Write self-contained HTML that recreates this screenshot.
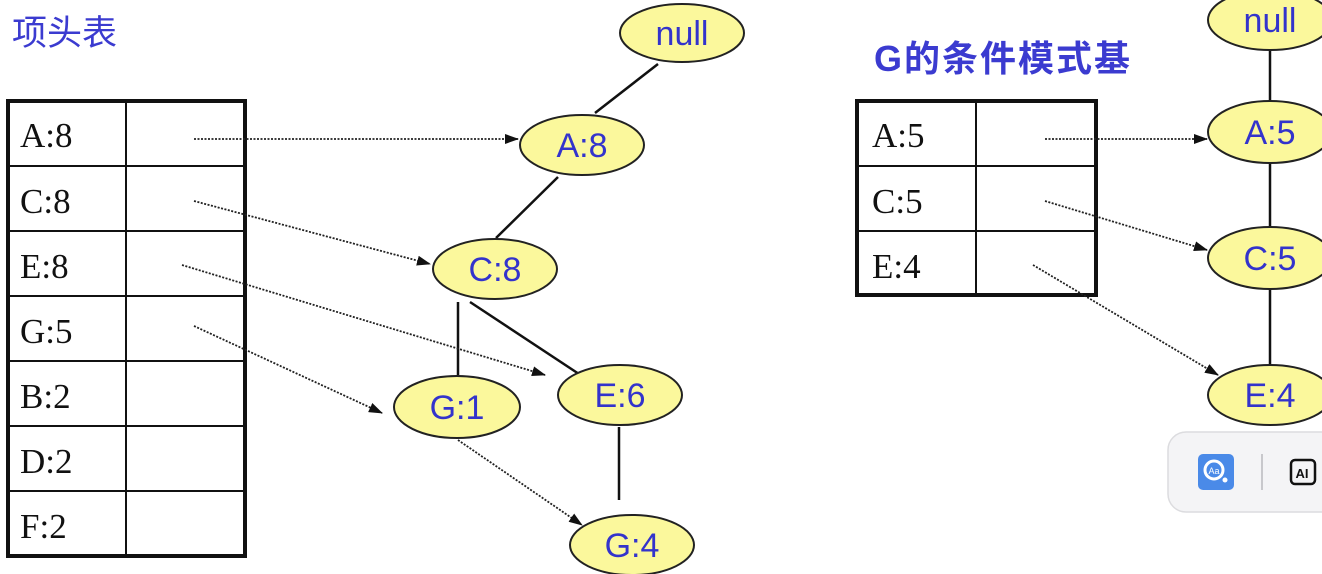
<!DOCTYPE html>
<html><head><meta charset="utf-8"><style>
html,body{margin:0;padding:0;background:#fff;width:1322px;height:574px;overflow:hidden;}
svg{display:block}
.t{font-family:"Liberation Serif","Noto Serif CJK SC",serif;font-size:35px;fill:#111}
.n{font-family:"Liberation Sans",sans-serif;font-size:34px;fill:#3333cc;text-anchor:middle}
.h{font-family:"Liberation Sans","Noto Sans CJK SC",sans-serif;fill:#3b3bd0}
</style></head><body>
<svg width="1322" height="574" viewBox="0 0 1322 574">
<defs><marker id="a" markerWidth="14" markerHeight="10" refX="13" refY="5" orient="auto" markerUnits="userSpaceOnUse"><path d="M0,0 L14,5 L0,10 z" fill="#111"/></marker></defs>
<text x="12" y="45" class="h" font-size="35">项头表</text>
<text x="874" y="71" class="h" font-size="36" font-weight="bold" textLength="256">G的条件模式基</text>
<!-- left table -->
<g stroke="#111" fill="none">
<rect x="8" y="101" width="237" height="455" stroke-width="4"/>
<line x1="126" y1="101" x2="126" y2="556" stroke-width="2"/>
<line x1="8" y1="166" x2="245" y2="166" stroke-width="2"/>
<line x1="8" y1="231" x2="245" y2="231" stroke-width="2"/>
<line x1="8" y1="296" x2="245" y2="296" stroke-width="2"/>
<line x1="8" y1="361" x2="245" y2="361" stroke-width="2"/>
<line x1="8" y1="426" x2="245" y2="426" stroke-width="2"/>
<line x1="8" y1="491" x2="245" y2="491" stroke-width="2"/>
</g>
<text class="t" x="20" y="147">A:8</text>
<text class="t" x="20" y="213">C:8</text>
<text class="t" x="20" y="278">E:8</text>
<text class="t" x="20" y="343">G:5</text>
<text class="t" x="20" y="408">B:2</text>
<text class="t" x="20" y="473">D:2</text>
<text class="t" x="20" y="538">F:2</text>
<!-- right table -->
<g stroke="#111" fill="none">
<rect x="857" y="101" width="239" height="194" stroke-width="4"/>
<line x1="976" y1="101" x2="976" y2="295" stroke-width="2"/>
<line x1="857" y1="166" x2="1096" y2="166" stroke-width="2"/>
<line x1="857" y1="231" x2="1096" y2="231" stroke-width="2"/>
</g>
<text class="t" x="872" y="147">A:5</text>
<text class="t" x="872" y="213">C:5</text>
<text class="t" x="872" y="278">E:4</text>
<!-- solid tree edges -->
<g stroke="#111" stroke-width="2.5">
<line x1="658" y1="64" x2="595" y2="113"/>
<line x1="558" y1="177" x2="496" y2="238"/>
<line x1="458" y1="302" x2="458" y2="375"/>
<line x1="470" y1="302" x2="582" y2="376"/>
<line x1="619" y1="427" x2="619" y2="500"/>
<line x1="1270" y1="50" x2="1270" y2="101"/>
<line x1="1270" y1="163" x2="1270" y2="227"/>
<line x1="1270" y1="289" x2="1270" y2="364"/>
</g>
<!-- dotted pointers -->
<g stroke="#222" stroke-width="1.8" stroke-dasharray="2,1.5" fill="none" marker-end="url(#a)">
<line x1="194" y1="139" x2="518" y2="139"/>
<line x1="194" y1="201" x2="430" y2="264"/>
<line x1="182" y1="265" x2="545" y2="375"/>
<line x1="194" y1="326" x2="382" y2="413"/>
<line x1="458" y1="440" x2="582" y2="525"/>
<line x1="1045" y1="139" x2="1207" y2="139"/>
<line x1="1045" y1="201" x2="1207" y2="250"/>
<line x1="1033" y1="265" x2="1218" y2="375"/>
</g>
<!-- nodes -->
<g fill="#fbf89c" stroke="#222" stroke-width="2">
<ellipse cx="682" cy="33" rx="62" ry="29"/>
<ellipse cx="582" cy="145" rx="62" ry="30"/>
<ellipse cx="495" cy="269" rx="62" ry="30"/>
<ellipse cx="457" cy="407" rx="63" ry="31"/>
<ellipse cx="620" cy="395" rx="62" ry="30"/>
<ellipse cx="632" cy="545" rx="62" ry="30"/>
<ellipse cx="1270" cy="20" rx="62" ry="30"/>
<ellipse cx="1270" cy="132" rx="62" ry="31"/>
<ellipse cx="1270" cy="258" rx="62" ry="31"/>
<ellipse cx="1270" cy="395" rx="62" ry="30"/>
</g>
<text class="n" x="682" y="45">null</text>
<text class="n" x="582" y="157">A:8</text>
<text class="n" x="495" y="281">C:8</text>
<text class="n" x="457" y="419">G:1</text>
<text class="n" x="620" y="407">E:6</text>
<text class="n" x="632" y="557">G:4</text>
<text class="n" x="1270" y="32">null</text>
<text class="n" x="1270" y="144">A:5</text>
<text class="n" x="1270" y="270">C:5</text>
<text class="n" x="1270" y="407">E:4</text>
<!-- toolbar popup -->
<rect x="1168" y="432" width="180" height="80" rx="18" fill="#f4f4f6" stroke="#dcdcdf" stroke-width="1.5"/>
<rect x="1198" y="454" width="36" height="36" rx="5" fill="#4a8ae8"/>
<circle cx="1214" cy="470" r="9" fill="none" stroke="#fff" stroke-width="3"/>
<circle cx="1225" cy="480" r="2.5" fill="#fff"/>
<text x="1214" y="474" font-family="Liberation Sans,sans-serif" font-size="9" fill="#fff" text-anchor="middle">Aa</text>
<line x1="1262" y1="454" x2="1262" y2="490" stroke="#c8c8cc" stroke-width="2"/>
<rect x="1291" y="460" width="24" height="24" rx="4" fill="none" stroke="#111" stroke-width="2.5"/>
<text x="1302" y="478" font-family="Liberation Sans,sans-serif" font-size="13" font-weight="bold" fill="#111" text-anchor="middle">AI</text>
</svg>
</body></html>
